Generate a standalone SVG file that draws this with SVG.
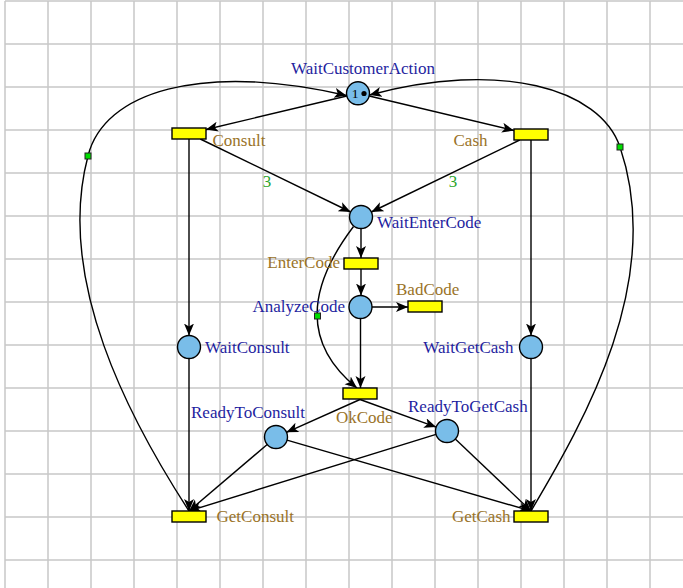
<svg xmlns="http://www.w3.org/2000/svg" width="683" height="588" viewBox="0 0 683 588">
<style>
.grid{stroke:#c8c8c8;stroke-width:1.5;fill:none}
.arc{stroke:#000;stroke-width:1.4;fill:none;marker-end:url(#ah)}
.place{fill:#79bde9;stroke:#000;stroke-width:1.4}
.trans{fill:#ffff00;stroke:#000;stroke-width:1.4}
.handle{fill:#00dd00;stroke:#222;stroke-width:1}
text{font-family:"Liberation Serif","Times New Roman",serif;font-size:17px}
.pl{fill:#1f1f9f}
.tl{fill:#9a7328}
.wt{fill:#2aa52a}
</style>
<defs>
<marker id="ah" markerUnits="userSpaceOnUse" markerWidth="13" markerHeight="11" refX="12" refY="5" orient="auto">
<path d="M0,0 L12,5 L0,10 L3,5 Z" fill="#000"/>
</marker>
</defs>
<rect x="0" y="0" width="683" height="588" fill="#fff"/>
<g id="grid">
<path class="grid" d="M5,1V588M48,1V588M91,1V588M134,1V588M177,1V588M220,1V588M263,1V588M306,1V588M349,1V588M392,1V588M435,1V588M478,1V588M521,1V588M564,1V588M607,1V588M650,1V588
M5,1H683M5,44H683M5,87H683M5,130H683M5,173H683M5,216H683M5,259H683M5,302H683M5,345H683M5,388H683M5,431H683M5,474H683M5,517H683M5,560H683"/>
</g>
<g id="connectors">
<path class="arc" d="M346.8,96 L206,129.5"/>
<path class="arc" d="M369.2,96 L514,130.5"/>
<path class="arc" d="M200.3,139 L350.7,212"/>
<path class="arc" d="M519.7,140 L371.3,212"/>
<path class="arc" d="M189,139 L189,335.5"/>
<path class="arc" d="M531,140 L531,335.5"/>
<path class="arc" d="M361,228.5 L361,258"/>
<path class="arc" d="M361,269 L361,295.5"/>
<path class="arc" d="M372,307 L408,307"/>
<path class="arc" d="M360.5,318.5 L360.5,388"/>
<path class="arc" d="M353.5,226.5 Q279,325 357,388"/>
<path class="arc" d="M360,399.5 L286.5,432.3"/>
<path class="arc" d="M360,399.5 L436.2,427.1"/>
<path class="arc" d="M189,358.5 L189,511"/>
<path class="arc" d="M531,358.5 L531,511"/>
<path class="arc" d="M267.2,444.5 L189,511"/>
<path class="arc" d="M287,440.2 L531,511"/>
<path class="arc" d="M436,434.4 L189,511"/>
<path class="arc" d="M455.3,438.9 L531,511"/>
<path class="arc" d="M189,511 C130,420 55,280 88,156 C104,92 200,62 346.5,95.5"/>
<path class="arc" d="M531,511 C585,420 665,280 620,147 C600,88 500,60 369.5,95"/>
<rect class="handle" x="85" y="153" width="6" height="6"/>
<rect class="handle" x="617" y="144" width="6" height="6"/>
<rect class="handle" x="314.5" y="313" width="6" height="6"/>
<text class="wt" x="267" y="187" text-anchor="middle">3</text>
<text class="wt" x="453" y="187" text-anchor="middle">3</text>
</g>
<g id="WaitCustomerAction">
<circle class="place" cx="358" cy="93.3" r="11.5"/>
<text x="355" y="98" text-anchor="middle" style="font-size:13.5px" fill="#000">1</text>
<circle cx="364" cy="93.5" r="2.6" fill="#000"/>
<text class="pl" x="363" y="74" text-anchor="middle">WaitCustomerAction</text>
</g>
<g id="Consult">
<rect class="trans" x="172" y="128" width="34" height="11"/>
<text class="tl" x="212.5" y="145.5">Consult</text>
</g>
<g id="Cash">
<rect class="trans" x="514" y="129" width="34" height="11"/>
<text class="tl" x="487.5" y="146" text-anchor="end">Cash</text>
</g>
<g id="WaitEnterCode">
<circle class="place" cx="361" cy="217" r="11.5"/>
<text class="pl" x="377" y="228">WaitEnterCode</text>
</g>
<g id="EnterCode">
<rect class="trans" x="344" y="258" width="34" height="11"/>
<text class="tl" x="340" y="268" text-anchor="end">EnterCode</text>
</g>
<g id="AnalyzeCode">
<circle class="place" cx="360.5" cy="307" r="11.5"/>
<text class="pl" x="345" y="311.5" text-anchor="end">AnalyzeCode</text>
</g>
<g id="BadCode">
<rect class="trans" x="408" y="301" width="34" height="11"/>
<text class="tl" x="396" y="294.5">BadCode</text>
</g>
<g id="WaitConsult">
<circle class="place" cx="189" cy="347" r="11.5"/>
<text class="pl" x="205" y="353">WaitConsult</text>
</g>
<g id="WaitGetCash">
<circle class="place" cx="531" cy="347" r="11.5"/>
<text class="pl" x="513.5" y="353" text-anchor="end">WaitGetCash</text>
</g>
<g id="OkCode">
<rect class="trans" x="343" y="388" width="34" height="11"/>
<text class="tl" x="336" y="423">OkCode</text>
</g>
<g id="ReadyToConsult">
<circle class="place" cx="276" cy="437" r="11.5"/>
<text class="pl" x="191" y="418">ReadyToConsult</text>
</g>
<g id="ReadyToGetCash">
<circle class="place" cx="447" cy="431" r="11.5"/>
<text class="pl" x="408" y="411.5">ReadyToGetCash</text>
</g>
<g id="GetConsult">
<rect class="trans" x="172" y="511" width="34" height="11"/>
<text class="tl" x="216.5" y="521.5">GetConsult</text>
</g>
<g id="GetCash">
<rect class="trans" x="514" y="511" width="34" height="11"/>
<text class="tl" x="510.5" y="521.5" text-anchor="end">GetCash</text>
</g>
</svg>
